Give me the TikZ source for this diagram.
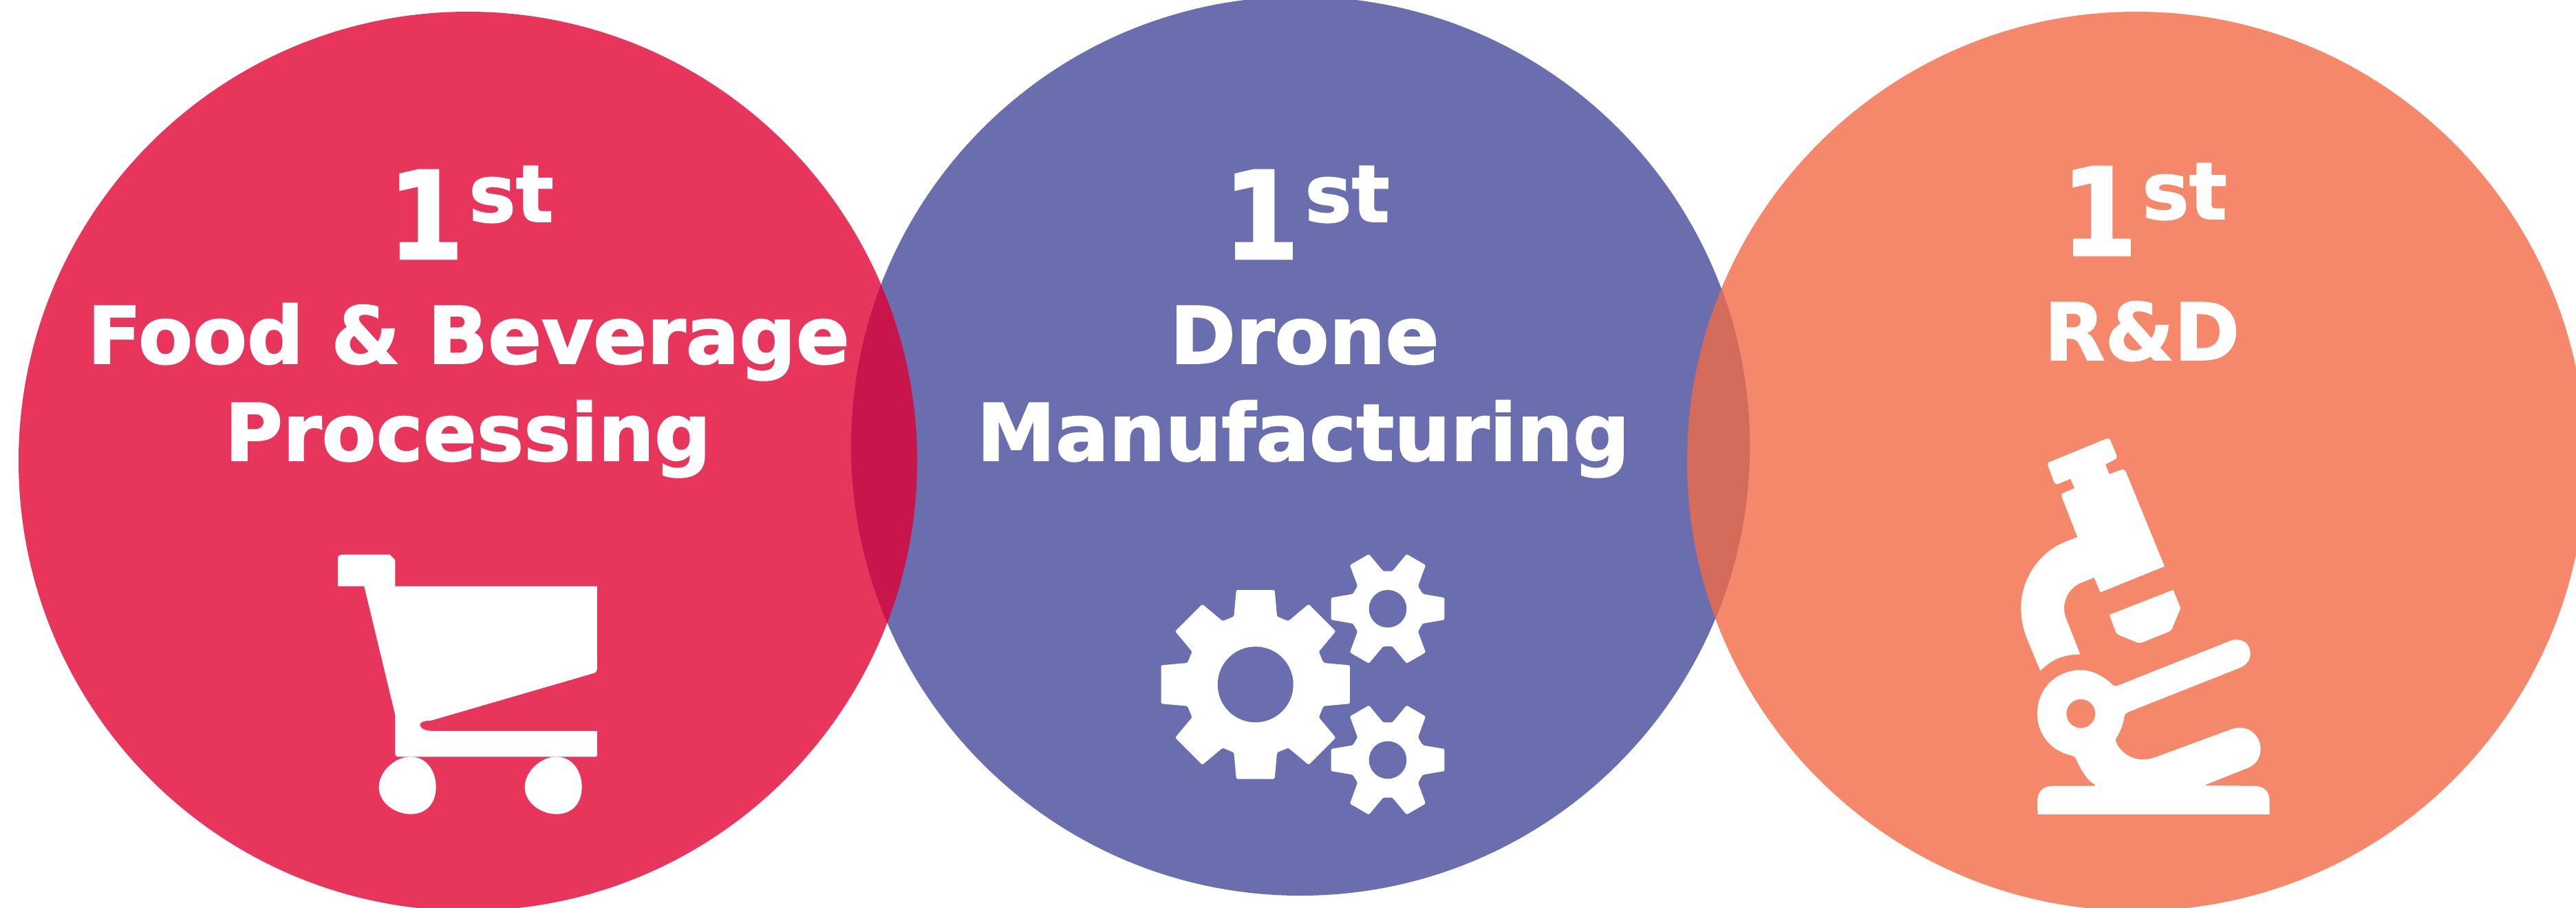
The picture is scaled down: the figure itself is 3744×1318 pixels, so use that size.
\documentclass[tikz,border=0pt]{standalone}
\usepackage{fontspec}
\newfontfamily\djsans[FakeBold=1.6]{DejaVu Sans Bold}
\definecolor{cred}{HTML}{E7355C}
\definecolor{cblue}{HTML}{6A6DAE}
\definecolor{corange}{HTML}{F5886A}
\definecolor{lensa}{HTML}{C8164D}
\definecolor{lensb}{HTML}{D56B5B}
\tikzset{
  label big/.style={text=white,inner sep=0pt,anchor=base,font=\djsans\fontsize{115}{115}\selectfont},
  label one/.style={text=white,inner sep=0pt,anchor=base,xscale=0.9,font=\djsans\fontsize{177}{177}\selectfont},
  icon/.style={fill=white,even odd rule},
}
\newcommand{\mygear}[9]{%
  % cx cy step lastangle baseR baseAng tipR tipAng hole
  \begin{scope}[shift={(#1,#2)}]
  \fill[icon,rounded corners=2.2pt] (-#6:#5)
    \foreach \a in {0,#3,...,#4}{
      -- ({\a-#6}:#5) -- ({\a-#8}:#7) -- ({\a+#8}:#7) -- ({\a+#6}:#5)
    } -- cycle;
  \fill[cblue] (0,0) circle ({#9/3});
  \end{scope}%
}
\begin{document}
\begin{tikzpicture}[x=1pt,y=-1pt]
\useasboundingbox (0,0) rectangle (3744,1318);
\clip (0,0) rectangle (3744,1318);
\fill[white] (0,0) rectangle (3744,1318);
% circles
\fill[cred] (680,670) circle (653pt);
\fill[corange] (3105,670) circle (653pt);
\fill[cblue] (1890,648) circle (653pt);
\begin{scope}
  \clip (680,670) circle (653pt);
  \fill[lensa] (1890,648) circle (653pt);
\end{scope}
\begin{scope}
  \clip (3105,670) circle (653pt);
  \fill[lensb] (1890,648) circle (653pt);
\end{scope}
% labels red
\node[label one] (redone) at (619,376) {1};
\node[label big] (redst) at (743,322) {st};
\node[label big] (redl1) at (681,528) {Food \& Beverage};
\node[label big] (redl2) at (680,669) {Processing};
% labels blue
\node[label one] (blueone) at (1833,376) {1};
\node[label big] (bluest) at (1958,322) {st};
\node[label big] (bluel1) at (1896,528) {Drone};
\node[label big] (bluel2) at (1894,669) {Manufacturing};
% labels orange
\node[label one] (orangeone) at (3051,371) {1};
\node[label big] (orangest) at (3175,318) {st};
\node[label big] (orangel1) at (3113,523) {R\&D};
% cart
\begin{scope}[shift={(440,760)},x=0.3333pt,y=-0.3333pt]
\fill[icon]
  (153,275) -- (153,155) .. controls (153,143) and (160,137) .. (172,137)
  -- (380,137) -- (403,160) -- (403,275) -- (1284,275) -- (1284,630)
  .. controls (1284,645) and (1277,653) .. (1265,655)
  -- (560,860) .. controls (525,861) and (510,868) .. (511,880)
  .. controls (513,897) and (540,906) .. (575,906)
  -- (1284,906) -- (1284,1010) .. controls (1284,1015) and (1281,1018) .. (1275,1018)
  -- (415,1018) .. controls (407,1018) and (403,1012) .. (403,1005)
  -- (403,835) -- (268,275) -- cycle;
\foreach \d in {0,636}{
\fill[icon,shift={(\d,0)}]
  (470,1018) .. controls (540,1018) and (581,1080) .. (581,1150)
  .. controls (581,1220) and (540,1268) .. (470,1268)
  .. controls (405,1268) and (332,1220) .. (332,1150)
  .. controls (332,1085) and (400,1018) .. (470,1018) -- cycle;
}
\end{scope}
% gears
\mygear{1824.7}{994.3}{45}{315}{103.7}{17.6}{140}{11.5}{165}
\mygear{2017}{884.3}{60}{300}{55}{23}{84}{11}{82}
\mygear{2017}{1104}{60}{300}{55}{23}{84}{11}{82}
% microscope
\begin{scope}[shift={(2900,620)},x=0.3333pt,y=-0.37pt]
\fill[icon]
  (228,148) .. controls (228,140) and (235,137) .. (245,135)
  -- (480,48) .. controls (492,45) and (498,46) .. (503,55)
  -- (528,110) .. controls (532,120) and (528,127) .. (518,130)
  -- (480,148) -- (497,186) -- (550,168) .. controls (560,166) and (566,170) .. (570,178)
  -- (738,548) -- (458,650) -- (431,592) -- (375,612)
  .. controls (320,632) and (300,680) .. (300,712)
  .. controls (300,730) and (305,745) .. (310,755)
  -- (370,893) .. controls (290,895) and (245,915) .. (196,958)
  -- (135,825) .. controls (118,785) and (112,745) .. (112,710)
  .. controls (112,590) and (200,490) .. (300,453)
  -- (358,433)
  -- (290,275) .. controls (287,265) and (292,260) .. (300,258)
  -- (345,241) -- (328,204) -- (275,224) .. controls (265,227) and (258,222) .. (255,215)
  -- cycle;
\fill[icon]
  (497,738) -- (776,640) -- (808,712) -- (772,790)
  .. controls (768,798) and (762,803) .. (755,805)
  -- (640,847) .. controls (632,849) and (625,849) .. (618,847)
  -- (540,818) .. controls (530,815) and (526,808) .. (523,800) -- cycle;
\fill[icon]
  (185,1522) -- (183,1475) .. controls (183,1425) and (215,1410) .. (250,1410)
  -- (433,1410) -- (435,1405) .. controls (400,1390) and (370,1340) .. (355,1310)
  .. controls (350,1298) and (345,1294) .. (335,1291)
  .. controls (250,1275) and (183,1215) .. (183,1125)
  .. controls (183,1025) and (270,955) .. (372,955)
  .. controls (430,955) and (480,985) .. (510,1012)
  .. controls (520,1020) and (530,1018) .. (545,1012)
  -- (1025,840) .. controls (1075,825) and (1112,850) .. (1112,890)
  .. controls (1112,915) and (1095,935) .. (1070,945)
  -- (585,1118) .. controls (570,1123) and (563,1128) .. (562,1140)
  .. controls (558,1170) and (545,1195) .. (530,1218)
  .. controls (522,1230) and (524,1238) .. (530,1245)
  .. controls (560,1295) and (625,1320) .. (695,1298)
  -- (1030,1187) .. controls (1100,1165) and (1157,1210) .. (1157,1265)
  .. controls (1157,1300) and (1135,1325) .. (1105,1338)
  -- (910,1408) -- (1125,1410) .. controls (1175,1410) and (1196,1430) .. (1196,1475)
  -- (1196,1522) -- cycle
  (373,1126) ellipse [x radius=21pt,y radius=21pt];
\end{scope}
\end{tikzpicture}
\end{document}
